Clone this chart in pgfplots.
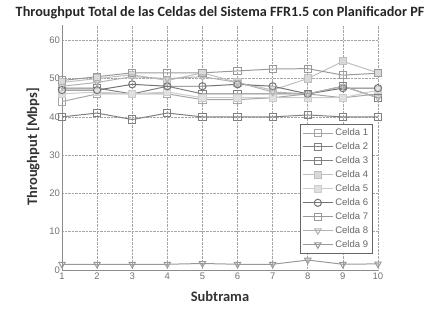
\documentclass[border=0pt]{standalone}
\usepackage{pgfplots}
\pgfplotsset{compat=1.18}
\usepackage{fontspec}
\setmainfont{Liberation Sans}
\newfontfamily\carlito{Carlito}
\begin{document}
\begin{tikzpicture}
\useasboundingbox (0,0) rectangle (440bp,320bp);
\begin{axis}[
  at={(62bp,50bp)}, anchor=south west,
  scale only axis, width=316bp, height=245bp,
  xmin=1, xmax=10, ymin=0, ymax=64,
  xtick={1,...,10}, ytick={0,10,...,60},
  axis x line*=bottom, axis y line*=left,
  axis line style={draw=black!45, line width=0.9pt},
  tick style={draw=none},
  grid=major,
  grid style={densely dotted, black!35, line width=0.6pt},
  /pgf/number format/assume math mode=true,
  tick label style={font=\fontsize{9.5bp}{11bp}\selectfont, text=black!55},
  xticklabel style={yshift=1bp},
  yticklabel style={xshift=1.5bp},
  legend style={at={(0.984,0.596)}, anchor=north east,
    font=\fontsize{9.5bp}{10.5bp}\selectfont, text=black!60,
    draw=black!60, line width=0.7pt, row sep=1.6bp, inner sep=2.5bp},
  legend cell align=left,
  legend image code/.code={\draw[mark repeat=2,mark phase=2,#1] plot coordinates {(0bp,0bp)(15bp,0bp)(30bp,0bp)};},
  every axis plot/.append style={line width=1pt, mark size=3.6bp, mark options={solid, fill=none}},
]
\addplot[black!35, mark=square] coordinates {(1,44)(2,46)(3,46)(4,46)(5,44.5)(6,44.5)(7,45)(8,46)(9,45)(10,46)};
\addlegendentry{Celda 1}
\addplot[black!50, mark=square] coordinates {(1,40)(2,41)(3,39.3)(4,41)(5,40)(6,40)(7,40)(8,40.5)(9,40)(10,40)};
\addlegendentry{Celda 2}
\addplot[black!50, mark=square] coordinates {(1,47.5)(2,47.5)(3,46)(4,48)(5,46)(6,46)(7,46)(8,46)(9,48)(10,45)};
\addlegendentry{Celda 3}
\addplot[black!25, mark=square*, mark options={fill=black!15}] coordinates {(1,49)(2,50)(3,51)(4,49.5)(5,51.5)(6,49)(7,47)(8,50)(9,54.5)(10,51.5)};
\addlegendentry{Celda 4}
\addplot[black!20, mark=square*, mark options={fill=black!12}] coordinates {(1,46)(2,46.5)(3,46)(4,46.5)(5,45)(6,45)(7,45)(8,45)(9,45)(10,47)};
\addlegendentry{Celda 5}
\addplot[black!55, mark=o] coordinates {(1,47)(2,47)(3,48.5)(4,48)(5,48)(6,48.5)(7,48)(8,46)(9,47.5)(10,47.5)};
\addlegendentry{Celda 6}
\addplot[black!40, mark=square] coordinates {(1,49.5)(2,50.5)(3,51.5)(4,51.5)(5,51.5)(6,52)(7,52.5)(8,52.6)(9,50.9)(10,51.4)};
\addlegendentry{Celda 7}
\addplot[black!30, mark=triangle, mark options={rotate=180}] coordinates {(1,48)(2,49)(3,50.5)(4,50)(5,50.5)(6,49)(7,46.5)(8,46)(9,48)(10,45)};
\addlegendentry{Celda 8}
\addplot[black!40, mark=triangle, mark options={rotate=180}] coordinates {(1,1.5)(2,1.5)(3,1.5)(4,1.5)(5,1.7)(6,1.5)(7,1.5)(8,2.6)(9,1.5)(10,1.6)};
\addlegendentry{Celda 9}
\end{axis}
\node[font=\carlito\bfseries\fontsize{14.2bp}{16bp}\selectfont, text=black!85] at (220bp,307bp) {Throughput Total de las Celdas del Sistema FFR1.5 con Planificador PF};
\node[font=\carlito\bfseries\fontsize{14.5bp}{16bp}\selectfont, text=black!80] at (220bp,24bp) {Subtrama};
\node[rotate=90, font=\carlito\bfseries\fontsize{14.5bp}{16bp}\selectfont, text=black!80] at (33bp,173bp) {Throughput [Mbps]};
\end{tikzpicture}
\end{document}
